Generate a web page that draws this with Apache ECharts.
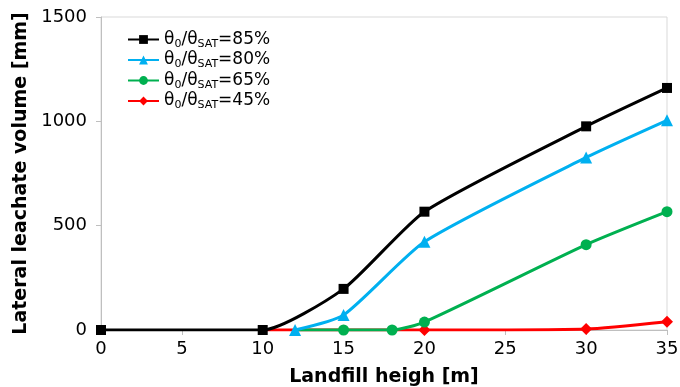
<!DOCTYPE html>
<html>
<head>
<meta charset="utf-8">
<script src="https://cdn.jsdelivr.net/npm/echarts@6/dist/echarts.min.js"></script>
<style>
  html, body { margin: 0; padding: 0; background: #fff; }
  #chart { width: 680px; height: 387px; }
</style>
</head>
<body>
<div id="chart"></div>
<script>
// landfill height [m] and lateral leachate volume [mm] per curve
const h85 = [0, 10, 15, 20, 30, 35]
const v85 = [0, 0, 197, 567, 976, 1160]
const h80 = [12, 15, 20, 30, 35]
const v80 = [0, 72, 423, 827, 1005]
const h65 = [12, 15, 18, 20, 30, 35]
const v65 = [0, 0, 0, 38, 409, 567]
const h45 = [10, 20, 30, 35]
const v45 = [0, 0, 5, 40]
const names = ['85', '80', '65', '45']
const xTicks = [0, 5, 10, 15, 20, 25, 30, 35]
const yTicks = [0, 500, 1000, 1500]

const font = '"DejaVu Sans"'

function pts(xs, ys, hideFirst) {
  return xs.map((x, i) => {
    if (hideFirst && i === 0) return { value: [x, ys[i]], symbol: 'none' }
    return [x, ys[i]]
  })
}

function mk(name, color, symbol, size, data, z) {
  return {
    name: name,
    type: 'line',
    smooth: 0.2,
    data: data,
    symbol: symbol,
    symbolSize: size,
    z: z,
    lineStyle: { color: color, width: 3 },
    itemStyle: { color: color },
    emphasis: { disabled: true }
  }
}

let chart = echarts.init(document.getElementById('chart'))
chart.setOption({
  animation: false,
  grid: {
    left: 101, right: 13, top: 17, bottom: 57,
    containLabel: false,
    outerBoundsMode: 'none',
    show: true, borderColor: '#d9d9d9', borderWidth: 1
  },
  legend: {
    orient: 'vertical',
    left: 122, top: 26,
    itemWidth: 31, itemHeight: 11, itemGap: 2,
    data: names,
    formatter: n => '{m|θ}{s|0}{m|/θ}{s|SAT}{m|=' + n + '%}',
    textStyle: {
      fontFamily: font, fontSize: 17,
      rich: {
        m: { fontFamily: font, fontSize: 17, color: '#000', lineHeight: 20 },
        s: { fontFamily: font, fontSize: 11, color: '#000', lineHeight: 20, verticalAlign: 'bottom', padding: [7, 0, 0, 0] }
      }
    }
  },
  xAxis: {
    type: 'value',
    min: 0, max: 35, interval: 5,
    name: 'Landfill heigh [m]',
    nameLocation: 'middle',
    nameGap: 38,
    nameTextStyle: { fontFamily: font, fontSize: 19, fontWeight: 'bold', color: '#000' },
    axisLine: { lineStyle: { color: '#bfbfbf' } },
    axisTick: { show: true, length: 5, lineStyle: { color: '#bfbfbf' } },
    axisLabel: { fontFamily: font, fontSize: 18, color: '#000', margin: 10,
      formatter: v => xTicks.includes(v) ? String(v) : '' },
    splitLine: { show: false }
  },
  yAxis: {
    type: 'value',
    min: 0, max: 1500, interval: 500,
    name: 'Lateral leachate volume [mm]',
    nameLocation: 'middle',
    nameGap: 69,
    nameTextStyle: { fontFamily: font, fontSize: 19, fontWeight: 'bold', color: '#000' },
    axisLine: { show: true, lineStyle: { color: '#bfbfbf' } },
    axisTick: { show: true, length: 5, lineStyle: { color: '#bfbfbf' } },
    axisLabel: { fontFamily: font, fontSize: 18, color: '#000', margin: 14,
      formatter: v => yTicks.includes(v) ? String(v) : '' },
    splitLine: { show: false }
  },
  series: [
    mk('85', '#000000', 'rect', 10, pts(h85, v85), 6),
    mk('80', '#00b0f0', 'triangle', 12, pts(h80, v80), 5),
    mk('65', '#00b050', 'circle', 11, pts(h65, v65, true), 4),
    mk('45', '#ff0000', 'diamond', 12, pts(h45, v45, true), 3)
  ]
})
</script>
</body>
</html>
